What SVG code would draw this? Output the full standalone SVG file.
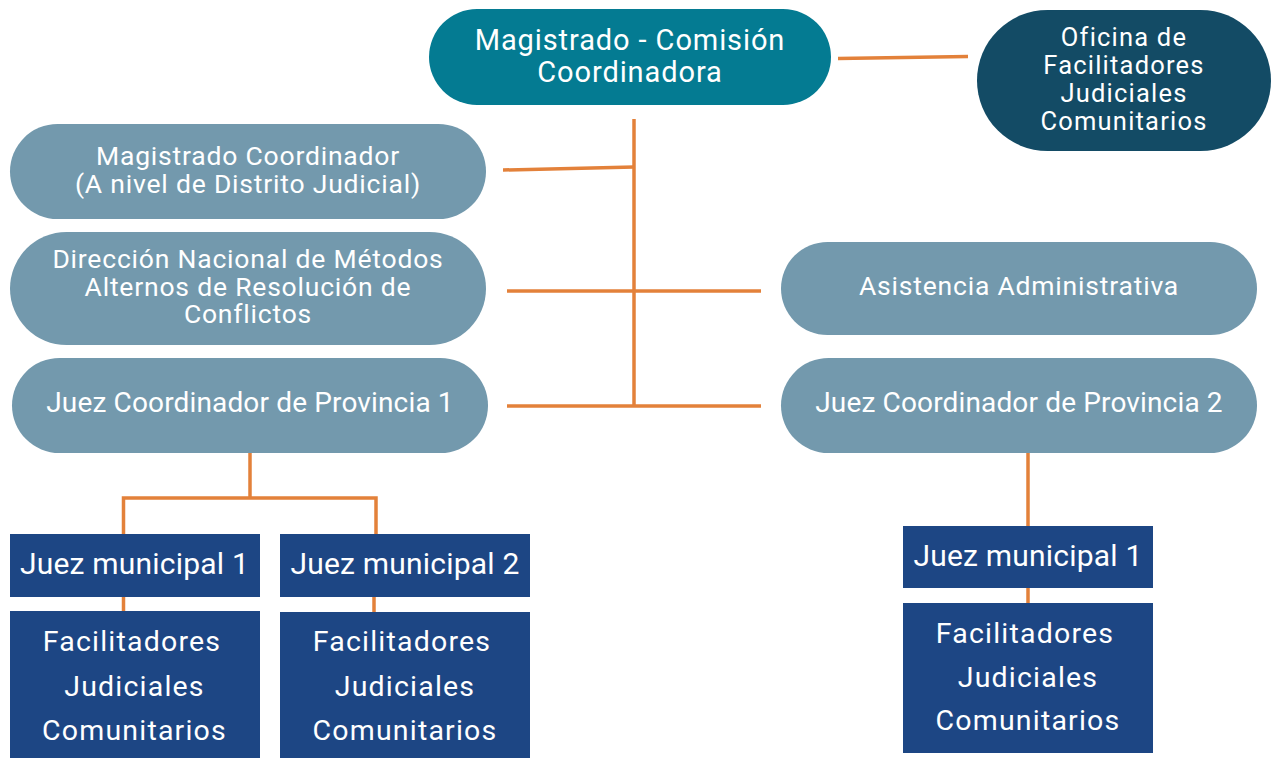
<svg xmlns="http://www.w3.org/2000/svg" width="1272" height="758" viewBox="0 0 1272 758">
<style>
.t{font-family:Roboto,"Liberation Sans",sans-serif;fill:#ffffff;text-anchor:middle}
.pill{fill:#7399ad}
.box{fill:#1d4684}
.c{stroke:#e3813a;stroke-width:3.5;fill:none}
.p{font-size:26.5px;letter-spacing:0.8px}
.j{font-size:28px;letter-spacing:0.15px}
.m{font-size:30px;letter-spacing:0.2px}
.f{font-size:28.5px;letter-spacing:1.2px}
</style>
<rect width="1272" height="758" fill="#ffffff"/>
<g id="connectors">
<line class="c" x1="838" y1="58.5" x2="968" y2="56.5"/>
<line class="c" x1="634" y1="119" x2="634" y2="407"/>
<line class="c" x1="503" y1="170" x2="634" y2="167"/>
<line class="c" x1="507" y1="291" x2="761" y2="291"/>
<line class="c" x1="507" y1="406" x2="761" y2="406"/>
<polyline class="c" points="250,453 250,498"/>
<polyline class="c" points="123.5,534 123.5,498 376,498 376,534"/>
<line class="c" x1="123.5" y1="597" x2="123.5" y2="611"/>
<line class="c" x1="374" y1="597" x2="374" y2="612"/>
<line class="c" x1="1028" y1="453" x2="1028" y2="526"/>
<line class="c" x1="1028" y1="588" x2="1028" y2="603"/>
</g>
<g id="magistrado-comision">
<rect x="429" y="9" width="402" height="96" rx="48" fill="#047b92"/>
<text class="t" x="630" y="50" style="font-size:29px;letter-spacing:0.9px">Magistrado - Comisión</text>
<text class="t" x="630" y="82" style="font-size:29px;letter-spacing:0.9px">Coordinadora</text>
</g>
<g id="oficina">
<rect x="977" y="10" width="294" height="141" rx="70.5" fill="#134b65"/>
<text class="t" x="1124" y="46" style="font-size:25.5px;letter-spacing:1.2px">Oficina de</text>
<text class="t" x="1124" y="74" style="font-size:25.5px;letter-spacing:1.2px">Facilitadores</text>
<text class="t" x="1124" y="102" style="font-size:25.5px;letter-spacing:1.2px">Judiciales</text>
<text class="t" x="1124" y="130" style="font-size:25.5px;letter-spacing:1.2px">Comunitarios</text>
</g>
<g id="magistrado-coordinador">
<rect class="pill" x="10" y="124" width="476" height="95" rx="47.5"/>
<text class="t p" x="248" y="165">Magistrado Coordinador</text>
<text class="t p" x="248" y="193">(A nivel de Distrito Judicial)</text>
</g>
<g id="direccion-nacional">
<rect class="pill" x="10" y="232" width="476" height="113" rx="56.5"/>
<text class="t p" x="248" y="268">Dirección Nacional de Métodos</text>
<text class="t p" x="248" y="296">Alternos de Resolución de</text>
<text class="t p" x="248" y="323">Conflictos</text>
</g>
<g id="juez-coord-1">
<rect class="pill" x="12" y="358" width="476" height="95" rx="47.5"/>
<text class="t j" x="250" y="412">Juez Coordinador de Provincia 1</text>
</g>
<g id="asistencia">
<rect class="pill" x="781" y="242" width="476" height="93" rx="46.5"/>
<text class="t p" x="1019" y="295">Asistencia Administrativa</text>
</g>
<g id="juez-coord-2">
<rect class="pill" x="781" y="358" width="476" height="95" rx="47.5"/>
<text class="t j" x="1019" y="412">Juez Coordinador de Provincia 2</text>
</g>
<g id="juez-municipal-1a">
<rect class="box" x="10" y="534" width="250" height="63"/>
<text class="t m" x="134.5" y="574">Juez municipal 1</text>
</g>
<g id="juez-municipal-2">
<rect class="box" x="280" y="534" width="250" height="63"/>
<text class="t m" x="405" y="574">Juez municipal 2</text>
</g>
<g id="facilitadores-1">
<rect class="box" x="10" y="611" width="250" height="147"/>
<text class="t f" x="132" y="651">Facilitadores</text>
<text class="t f" x="134.5" y="696">Judiciales</text>
<text class="t f" x="134.5" y="739.5">Comunitarios</text>
</g>
<g id="facilitadores-2">
<rect class="box" x="280" y="612" width="250" height="146"/>
<text class="t f" x="402" y="651">Facilitadores</text>
<text class="t f" x="405" y="696">Judiciales</text>
<text class="t f" x="405" y="739.5">Comunitarios</text>
</g>
<g id="juez-municipal-1b">
<rect class="box" x="903" y="526" width="250" height="62"/>
<text class="t m" x="1028" y="566">Juez municipal 1</text>
</g>
<g id="facilitadores-3">
<rect class="box" x="903" y="603" width="250" height="150"/>
<text class="t f" x="1025" y="642.5">Facilitadores</text>
<text class="t f" x="1028" y="687">Judiciales</text>
<text class="t f" x="1028" y="730">Comunitarios</text>
</g>
</svg>
